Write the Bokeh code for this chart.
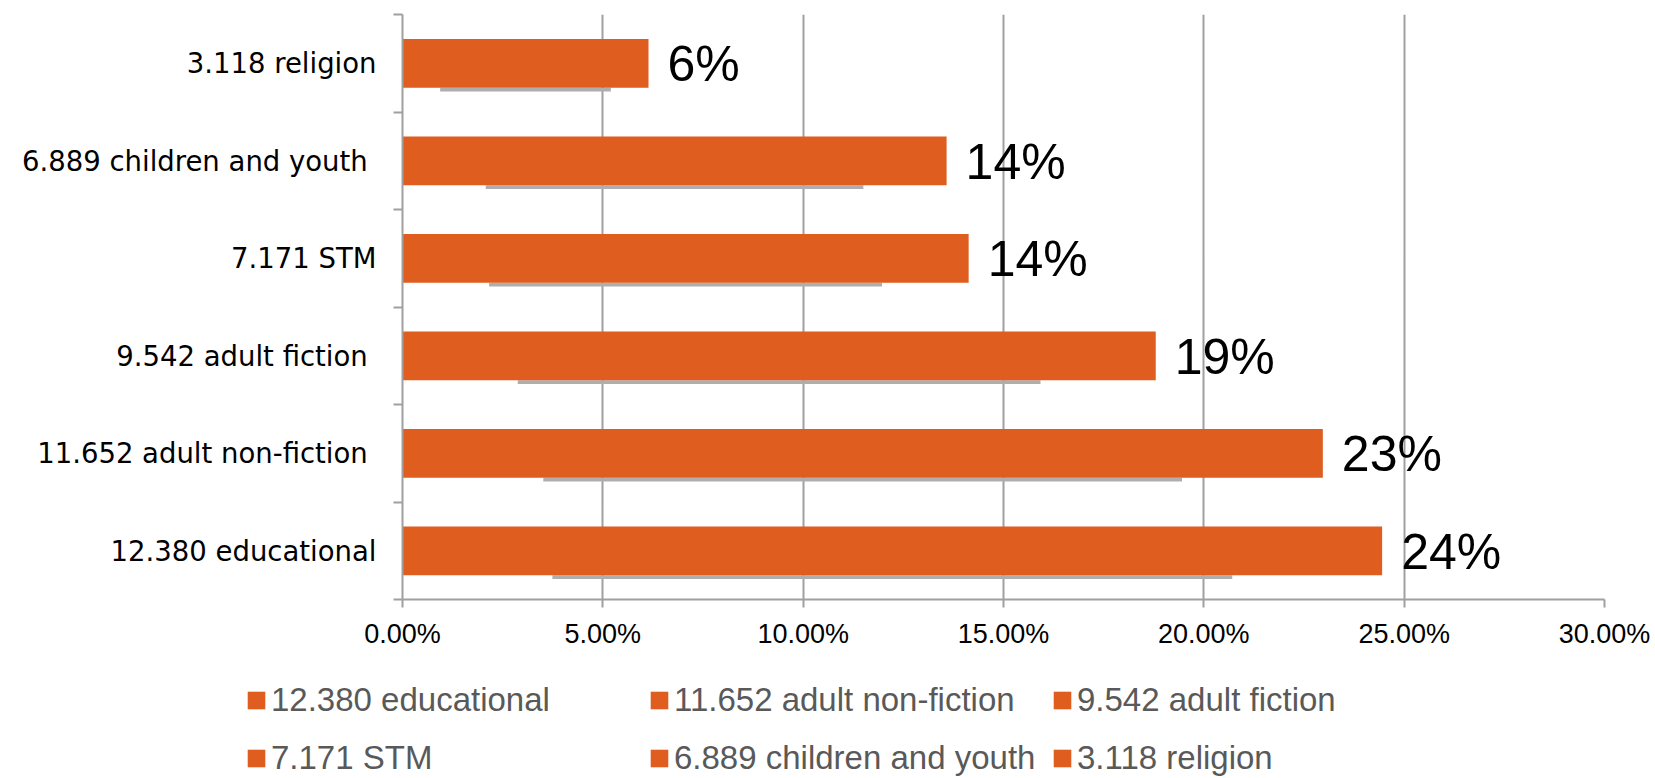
from bokeh.plotting import figure
from bokeh.layouts import column
from bokeh.models import (Range1d, FixedTicker, NumeralTickFormatter, Legend,
                          LegendItem, ColumnDataSource)
from bokeh.core.properties import value
from bokeh.embed import file_html
from bokeh.resources import INLINE

# ---- data ----
categories = ["12.380 educational", "11.652 adult non-fiction ", "9.542 adult fiction ",
              "7.171 STM", "6.889 children and youth ", "3.118 religion"]
legend_labels = ["12.380 educational", "11.652 adult non-fiction", "9.542 adult fiction",
                 "7.171 STM", "6.889 children and youth", "3.118 religion"]
shares = [0.2445, 0.2297, 0.1880, 0.1413, 0.1358, 0.0614]
share_labels = ["24%", "23%", "19%", "14%", "14%", "6%"]
x_ticks = [0.0, 0.05, 0.10, 0.15, 0.20, 0.25, 0.30]

ORANGE = "#DE5D1F"
GRID = "#A0A0A0"

ys = [i + 0.5 for i in range(len(categories))]
src = ColumnDataSource(dict(
    y=ys, share=shares, label=share_labels, cat=categories,
    sh_left=[v * 0.153 for v in shares], sh_right=[v * 0.847 for v in shares],
    sh_y=[y - 0.27 for y in ys],
))

W = 1655
MAIN_H = 668
LEG_H = 110

p = figure(width=W, height=MAIN_H, x_range=Range1d(0, 0.30), y_range=Range1d(0, 6),
           output_backend="svg", toolbar_location=None,
           min_border_left=402, min_border_right=51, min_border_top=14, min_border_bottom=69)
p.outline_line_color = None
p.background_fill_color = "white"
p.frame_align = False

# grid
p.ygrid.visible = False
p.xgrid.ticker = FixedTicker(ticks=x_ticks)
p.xgrid.grid_line_color = GRID
p.xgrid.grid_line_width = 2

# shadows and bars
p.hbar(y="sh_y", left="sh_left", right="sh_right", height=0.04, source=src,
       fill_color="#AEAEAE", line_color=None)
bars = p.hbar(y="y", left=0, right="share", height=0.5, source=src,
              fill_color=ORANGE, line_color=None)

# value labels
p.text(x="share", y="y", text="label", source=src, x_offset=19, y_offset=1,
       text_font=value("Liberation Sans"), text_font_size="50px",
       text_baseline="middle", text_align="left", text_color="black")

# x axis
xa = p.xaxis[0]
xa.ticker = FixedTicker(ticks=x_ticks)
xa.formatter = NumeralTickFormatter(format="0.00%")
xa.axis_line_color = GRID
xa.axis_line_width = 2
xa.major_tick_line_color = GRID
xa.major_tick_line_width = 2
xa.major_tick_out = 8
xa.major_tick_in = 0
xa.minor_tick_line_color = None
xa.major_label_standoff = 11
xa.major_label_text_font = "Liberation Sans"
xa.major_label_text_font_size = "27px"
xa.major_label_text_color = "black"

# y axis
ya = p.yaxis[0]
ya.ticker = FixedTicker(ticks=ys, minor_ticks=list(range(len(categories) + 1)))
ya.major_label_overrides = {y: c for y, c in zip(ys, categories)}
ya.axis_line_color = GRID
ya.axis_line_width = 2
ya.major_tick_line_color = None
ya.major_tick_out = 0
ya.major_tick_in = 0
ya.minor_tick_line_color = GRID
ya.minor_tick_line_width = 2
ya.minor_tick_out = 9
ya.minor_tick_in = 0
ya.major_label_standoff = 17
ya.major_label_text_font = "DejaVu Sans"
ya.major_label_text_font_size = "27.5px"
ya.major_label_text_color = "black"

# legend figure (screen-pixel frame, proxy bars kept outside its visible range)
pl = figure(width=W, height=LEG_H, x_range=Range1d(0, W), y_range=Range1d(1000, 1000 + LEG_H),
            output_backend="svg", toolbar_location=None, x_axis_type=None, y_axis_type=None,
            min_border_left=0, min_border_right=0, min_border_top=0, min_border_bottom=0)
pl.outline_line_color = None
pl.frame_align = False
pl.xgrid.visible = False
pl.ygrid.visible = False
proxy = pl.hbar(y="y", left=0, right="share", height=0.5, source=src,
                fill_color=ORANGE, line_color=None)
items = [LegendItem(label=legend_labels[i], renderers=[proxy], index=i)
         for i in range(len(legend_labels))]
legend = Legend(items=items, location=(245, -1), orientation="horizontal", ncols=3,
                glyph_width=22, glyph_height=22, label_standoff=4,
                label_width=362, label_height=43, spacing=15, padding=0, margin=0,
                border_line_color=None, background_fill_alpha=0,
                label_text_font="Liberation Sans", label_text_font_size="33px",
                label_text_color="#595959")
pl.add_layout(legend, "center")

layout = column(p, pl, spacing=0)
open("out.html", "w").write(file_html(layout, INLINE))
